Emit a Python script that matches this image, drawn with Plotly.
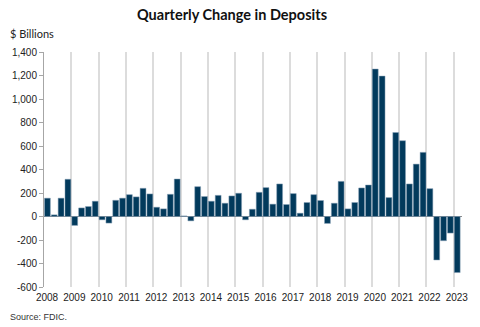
import plotly.graph_objects as go

years = list(range(2008, 2024))
quarters = [1, 2, 3, 4]

# Quarterly change in deposits, $ billions, 2008Q1 .. 2023Q1
values = [
    156, 14, 156, 317,        # 2008
    -76, 73, 85, 130,         # 2009
    -28, -56, 138, 156,       # 2010
    186, 167, 240, 192,       # 2011
    79, 65, 189, 319,         # 2012
    5, -37, 254, 170,         # 2013
    130, 180, 113, 175,       # 2014
    198, -28, 62, 206,        # 2015
    246, 105, 277, 102,       # 2016
    195, 28, 119, 186,        # 2017
    136, -59, 113, 299,       # 2018
    65, 119, 243, 268,        # 2019
    1255, 1195, 161, 715,     # 2020
    645, 277, 446, 546,       # 2021
    237, -370, -206, -141,    # 2022
    -477,                     # 2023
]

year_ticks = list(range(2008, 2024))
y_ticks = list(range(-600, 1401, 200))

x_pos = []
for y in years:
    for q in quarters:
        if len(x_pos) < len(values):
            x_pos.append(y + (q - 0.5) / 4)

fig = go.Figure()
fig.add_trace(go.Bar(
    x=x_pos, y=values,
    marker=dict(color="#023a5c", line=dict(color="#8aa3b8", width=0.5)),
    width=0.215,
))

tickfont = dict(family="Liberation Sans, Arial, sans-serif", size=10, color="#222")

fig.update_layout(
    width=480, height=327,
    margin=dict(l=42, r=14, t=52, b=40),
    paper_bgcolor="white", plot_bgcolor="white",
    showlegend=False,
    title=dict(
        text="<b>Quarterly Change in Deposits</b>",
        x=232/480, xanchor="center", xref="container",
        y=1 - 15/327, yanchor="middle", yref="container",
        font=dict(family="Lato, Open Sans, sans-serif", size=14.5, color="#111"),
    ),
    xaxis=dict(
        range=[2008, 2023.3],
        tickmode="array", tickvals=year_ticks,
        ticktext=[str(v) for v in year_ticks],
        showgrid=True, gridcolor="#dcdcdc", gridwidth=1.5,
        showline=False, zeroline=False, ticks="",
        tickfont=tickfont, ticklabelshift=3, ticklabelstandoff=3,
    ),
    yaxis=dict(
        range=[-600, 1400],
        tickmode="array", tickvals=y_ticks,
        ticktext=[f"{v:,}" for v in y_ticks],
        showgrid=False,
        showline=True, linecolor="#a6a6a6", linewidth=1,
        ticks="outside", ticklen=4, tickcolor="#a6a6a6",
        zeroline=True, zerolinecolor="#8c8c8c", zerolinewidth=1,
        tickfont=tickfont,
    ),
    annotations=[
        dict(text="$ Billions", xref="paper", yref="paper",
             x=(5 - 42) / 424, y=(287.3 - 33) / 235.8,
             xanchor="left", yanchor="middle", showarrow=False,
             font=dict(family="Lato, Open Sans, sans-serif", size=11, color="#222")),
        dict(text="Source: FDIC.", xref="paper", yref="paper",
             x=(5 - 42) / 424, y=(287.3 - 317) / 235.8,
             xanchor="left", yanchor="middle", showarrow=False,
             font=dict(family="Liberation Sans, Arial, sans-serif", size=9, color="#333")),
    ],
)

fig.write_html("out.html")
